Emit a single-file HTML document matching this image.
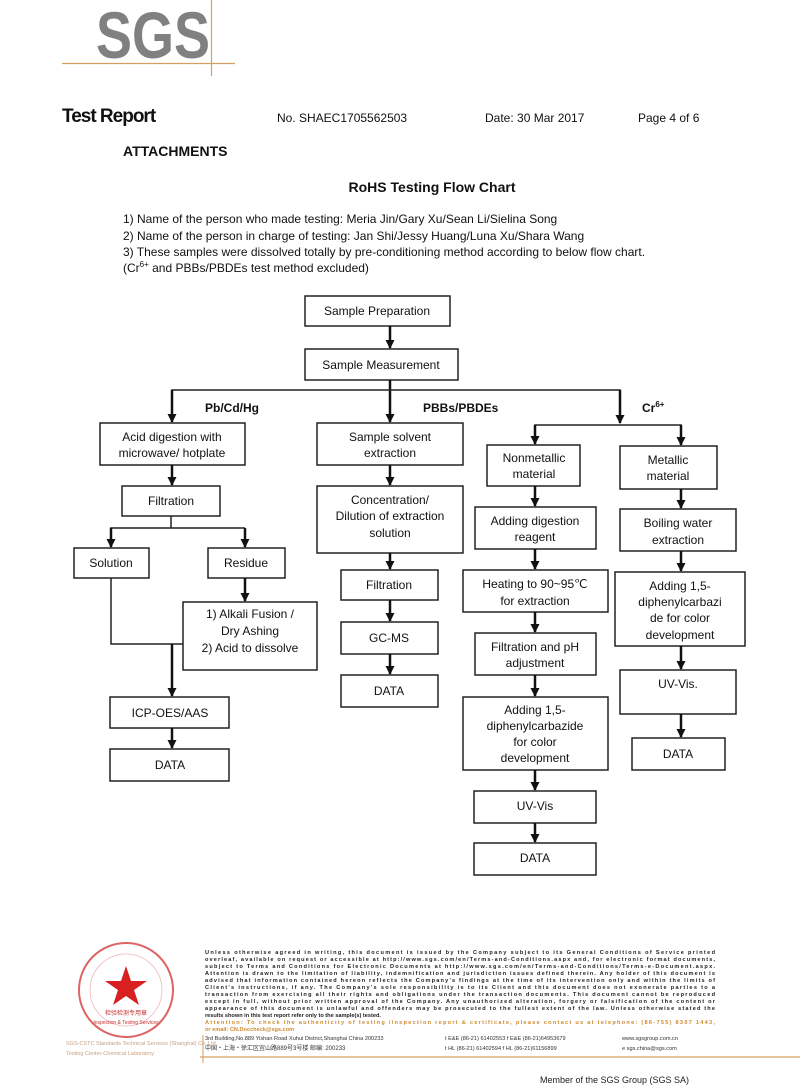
<!DOCTYPE html>
<html><head><meta charset="utf-8"><style>
body{margin:0;background:#fff;}
svg{display:block}
text{font-family:"Liberation Sans",Arial,sans-serif;fill:#111}
.b{fill:#fff;stroke:#222;stroke-width:1.5}
.l{stroke:#222;stroke-width:1.5;fill:none}
.a{stroke:#111;stroke-width:2.5;fill:none}
.t{font-size:12px;text-anchor:middle}
.ft{font-size:5.6px;fill:#222;font-weight:bold}
</style></head><body>
<svg width="800" height="1085" viewBox="0 0 800 1085" xmlns="http://www.w3.org/2000/svg">
<defs><marker id="ah" markerWidth="9" markerHeight="9" refX="8" refY="4.5" orient="auto" markerUnits="userSpaceOnUse"><path d="M0,0 L9,4.5 L0,9 z" fill="#111"/></marker></defs>
<!-- header -->
<text x="96" y="58" font-size="66" font-weight="bold" style="fill:#808080" textLength="114" lengthAdjust="spacingAndGlyphs">SGS</text>
<line x1="62" y1="63.5" x2="235" y2="63.5" stroke="#d4a060" stroke-width="1.2"/>
<line x1="211.5" y1="0" x2="211.5" y2="76" stroke="#d4a060" stroke-width="1.2"/>
<text x="62" y="122" font-size="19" font-weight="bold" style="letter-spacing:-1px">Test Report</text>
<text x="277" y="122" font-size="12">No. SHAEC1705562503</text>
<text x="485" y="122" font-size="12">Date: 30 Mar 2017</text>
<text x="638" y="122" font-size="12">Page 4 of 6</text>
<text x="123" y="156" font-size="14" font-weight="bold">ATTACHMENTS</text>
<text x="432" y="192" font-size="14" font-weight="bold" text-anchor="middle">RoHS Testing Flow Chart</text>
<text x="123" y="223" font-size="12">1) Name of the person who made testing: Meria Jin/Gary Xu/Sean Li/Sielina Song</text>
<text x="123" y="240" font-size="12">2) Name of the person in charge of testing: Jan Shi/Jessy Huang/Luna Xu/Shara Wang</text>
<text x="123" y="256" font-size="12">3) These samples were dissolved totally by pre-conditioning method according to below flow chart.</text>
<text x="123" y="272" font-size="12">(Cr<tspan font-size="8" dy="-5">6+</tspan><tspan dy="5"> and PBBs/PBDEs test method excluded)</tspan></text>

<!-- top boxes -->
<rect class="b" x="305" y="296" width="145" height="30"/><text class="t" x="377" y="315">Sample Preparation</text>
<rect class="b" x="305" y="349" width="153" height="31"/><text class="t" x="381" y="369">Sample Measurement</text>
<line class="a" x1="390" y1="326" x2="390" y2="348" marker-end="url(#ah)"/>
<line class="a" x1="390" y1="380" x2="390" y2="422" marker-end="url(#ah)"/>
<polyline class="l" points="172,410 172,390 620,390 620,410"/>
<line class="a" x1="172" y1="390" x2="172" y2="422" marker-end="url(#ah)"/>
<line class="a" x1="620" y1="390" x2="620" y2="423" marker-end="url(#ah)"/>
<text x="205" y="412" font-size="12" font-weight="bold">Pb/Cd/Hg</text>
<text x="423" y="412" font-size="12" font-weight="bold">PBBs/PBDEs</text>
<text x="642" y="412" font-size="12" font-weight="bold">Cr<tspan font-size="8" dy="-5">6+</tspan></text>

<!-- left column -->
<rect class="b" x="100" y="423" width="145" height="42"/><text class="t" x="172" y="441">Acid digestion with</text><text class="t" x="172" y="457">microwave/ hotplate</text>
<line class="a" x1="172" y1="465" x2="172" y2="485" marker-end="url(#ah)"/>
<rect class="b" x="122" y="486" width="98" height="30"/><text class="t" x="171" y="505">Filtration</text>
<polyline class="l" points="171,516 171,528 245,528"/>
<line class="l" x1="110" y1="528" x2="171" y2="528"/>
<line class="a" x1="111" y1="528" x2="111" y2="547" marker-end="url(#ah)"/>
<line class="a" x1="245" y1="528" x2="245" y2="547" marker-end="url(#ah)"/>
<rect class="b" x="74" y="548" width="75" height="30"/><text class="t" x="111" y="567">Solution</text>
<rect class="b" x="208" y="548" width="77" height="30"/><text class="t" x="246" y="567">Residue</text>
<line class="a" x1="245" y1="578" x2="245" y2="601" marker-end="url(#ah)"/>
<rect class="b" x="183" y="602" width="134" height="68"/>
<text class="t" x="250" y="618">1) Alkali Fusion /</text><text class="t" x="250" y="635">Dry Ashing</text><text class="t" x="250" y="652">2) Acid to dissolve</text>
<polyline class="l" points="111,578 111,644 183,644"/>
<line class="a" x1="172" y1="644" x2="172" y2="696" marker-end="url(#ah)"/>
<rect class="b" x="110" y="697" width="119" height="31"/><text class="t" x="170" y="717">ICP-OES/AAS</text>
<line class="a" x1="172" y1="728" x2="172" y2="748" marker-end="url(#ah)"/>
<rect class="b" x="110" y="749" width="119" height="32"/><text class="t" x="170" y="769">DATA</text>

<!-- middle column -->
<rect class="b" x="317" y="423" width="146" height="42"/><text class="t" x="390" y="441">Sample solvent</text><text class="t" x="390" y="457">extraction</text>
<line class="a" x1="390" y1="465" x2="390" y2="485" marker-end="url(#ah)"/>
<rect class="b" x="317" y="486" width="146" height="67"/><text class="t" x="390" y="504">Concentration/</text><text class="t" x="390" y="520">Dilution of extraction</text><text class="t" x="390" y="537">solution</text>
<line class="a" x1="390" y1="553" x2="390" y2="569" marker-end="url(#ah)"/>
<rect class="b" x="341" y="570" width="97" height="30"/><text class="t" x="389" y="589">Filtration</text>
<line class="a" x1="390" y1="600" x2="390" y2="621" marker-end="url(#ah)"/>
<rect class="b" x="341" y="622" width="97" height="32"/><text class="t" x="389" y="642">GC-MS</text>
<line class="a" x1="390" y1="654" x2="390" y2="674" marker-end="url(#ah)"/>
<rect class="b" x="341" y="675" width="97" height="32"/><text class="t" x="389" y="695">DATA</text>

<!-- Cr6+ -->
<polyline class="l" points="535,435 535,425 681,425 681,435"/>
<line class="a" x1="535" y1="425" x2="535" y2="444" marker-end="url(#ah)"/>
<line class="a" x1="681" y1="425" x2="681" y2="445" marker-end="url(#ah)"/>
<rect class="b" x="487" y="445" width="93" height="41"/><text class="t" x="534" y="462">Nonmetallic</text><text class="t" x="534" y="478">material</text>
<line class="a" x1="535" y1="486" x2="535" y2="506" marker-end="url(#ah)"/>
<rect class="b" x="475" y="507" width="121" height="42"/><text class="t" x="535" y="525">Adding digestion</text><text class="t" x="535" y="541">reagent</text>
<line class="a" x1="535" y1="549" x2="535" y2="569" marker-end="url(#ah)"/>
<rect class="b" x="463" y="570" width="145" height="42"/><text class="t" x="535" y="588">Heating to 90~95℃</text><text class="t" x="535" y="605">for extraction</text>
<line class="a" x1="535" y1="612" x2="535" y2="632" marker-end="url(#ah)"/>
<rect class="b" x="475" y="633" width="121" height="42"/><text class="t" x="535" y="651">Filtration and pH</text><text class="t" x="535" y="667">adjustment</text>
<line class="a" x1="535" y1="675" x2="535" y2="696" marker-end="url(#ah)"/>
<rect class="b" x="463" y="697" width="145" height="73"/><text class="t" x="535" y="714">Adding 1,5-</text><text class="t" x="535" y="730">diphenylcarbazide</text><text class="t" x="535" y="746">for color</text><text class="t" x="535" y="762">development</text>
<line class="a" x1="535" y1="770" x2="535" y2="790" marker-end="url(#ah)"/>
<rect class="b" x="474" y="791" width="122" height="32"/><text class="t" x="535" y="810">UV-Vis</text>
<line class="a" x1="535" y1="823" x2="535" y2="842" marker-end="url(#ah)"/>
<rect class="b" x="474" y="843" width="122" height="32"/><text class="t" x="535" y="862">DATA</text>

<rect class="b" x="620" y="446" width="97" height="43"/><text class="t" x="668" y="464">Metallic</text><text class="t" x="668" y="480">material</text>
<line class="a" x1="681" y1="489" x2="681" y2="508" marker-end="url(#ah)"/>
<rect class="b" x="620" y="509" width="116" height="42"/><text class="t" x="678" y="527">Boiling water</text><text class="t" x="678" y="544">extraction</text>
<line class="a" x1="681" y1="551" x2="681" y2="571" marker-end="url(#ah)"/>
<rect class="b" x="615" y="572" width="130" height="74"/><text class="t" x="680" y="590">Adding 1,5-</text><text class="t" x="680" y="606">diphenylcarbazi</text><text class="t" x="680" y="622">de for color</text><text class="t" x="680" y="639">development</text>
<line class="a" x1="681" y1="646" x2="681" y2="669" marker-end="url(#ah)"/>
<rect class="b" x="620" y="670" width="116" height="44"/><text class="t" x="678" y="688">UV-Vis.</text>
<line class="a" x1="681" y1="714" x2="681" y2="737" marker-end="url(#ah)"/>
<rect class="b" x="632" y="738" width="93" height="32"/><text class="t" x="678" y="758">DATA</text>

<!-- footer -->
<circle cx="126" cy="990" r="47" fill="none" stroke="#d03030" stroke-width="2" opacity="0.75"/>
<circle cx="126" cy="990" r="36" fill="none" stroke="#e07070" stroke-width="0.8" opacity="0.5"/>
<polygon points="126,966 131,981 147,981 134,990 139,1005 126,996 113,1005 118,990 105,981 121,981" fill="#d82020"/>
<text x="126" y="1015" font-size="6" text-anchor="middle" style="fill:#c83030">检验检测专用章</text>
<text x="126" y="1024" font-size="5" text-anchor="middle" style="fill:#c83030">Inspection &amp; Testing Services</text>
<text x="66" y="1045" font-size="5.5" style="fill:#c8a080">SGS-CSTC Standards Technical Services (Shanghai) Co.,Ltd.</text>
<text x="66" y="1055" font-size="5.5" style="fill:#c8a080">Testing Center-Chemical Laboratory</text>
<g>
<text x="205" y="954" class="ft" textLength="510">Unless otherwise agreed in writing, this document is issued by the Company subject to its General Conditions of Service printed</text>
<text x="205" y="961" class="ft" textLength="510">overleaf, available on request or accessible at http://www.sgs.com/en/Terms-and-Conditions.aspx and, for electronic format documents,</text>
<text x="205" y="968" class="ft" textLength="510">subject to Terms and Conditions for Electronic Documents at http://www.sgs.com/en/Terms-and-Conditions/Terms-e-Document.aspx.</text>
<text x="205" y="975" class="ft" textLength="510">Attention is drawn to the limitation of liability, indemnification and jurisdiction issues defined therein. Any holder of this document is</text>
<text x="205" y="982" class="ft" textLength="510">advised that information contained hereon reflects the Company's findings at the time of its intervention only and within the limits of</text>
<text x="205" y="989" class="ft" textLength="510">Client's instructions, if any. The Company's sole responsibility is to its Client and this document does not exonerate parties to a</text>
<text x="205" y="996" class="ft" textLength="510">transaction from exercising all their rights and obligations under the transaction documents. This document cannot be reproduced</text>
<text x="205" y="1003" class="ft" textLength="510">except in full, without prior written approval of the Company. Any unauthorized alteration, forgery or falsification of the content or</text>
<text x="205" y="1010" class="ft" textLength="510">appearance of this document is unlawful and offenders may be prosecuted to the fullest extent of the law. Unless otherwise stated the</text>
<text x="205" y="1017" class="ft">results shown in this test report refer only to the sample(s) tested.</text>
<text x="205" y="1024" font-size="5.6" font-weight="bold" style="fill:#d08a30" textLength="510">Attention: To check the authenticity of testing /inspection report &amp; certificate, please contact us at telephone: (86-755) 8307 1443,</text>
<text x="205" y="1031" font-size="5.6" font-weight="bold" style="fill:#d08a30">or email: CN.Doccheck@sgs.com</text>
<text x="205" y="1040" font-size="5.6" style="fill:#333">3rd Building,No.889 Yishan Road Xuhui District,Shanghai China   200233</text>
<text x="445" y="1040" font-size="5.6" style="fill:#333">t E&amp;E (86-21) 61402553  f E&amp;E (86-21)64953679</text>
<text x="622" y="1040" font-size="5.6" style="fill:#333">www.sgsgroup.com.cn</text>
<text x="205" y="1050" font-size="6" style="fill:#333;font-family:'Liberation Sans','Noto Sans CJK SC',sans-serif">中国・上海・徐汇区宜山路889号3号楼   邮编: 200233</text>
<text x="445" y="1050" font-size="5.6" style="fill:#333">t HL (86-21) 61402594  f HL (86-21)61156899</text>
<text x="622" y="1050" font-size="5.6" style="fill:#333">e  sgs.china@sgs.com</text>
</g>
<line x1="200" y1="1057" x2="800" y2="1057" stroke="#d4a060" stroke-width="1.2"/>
<line x1="203" y1="1035" x2="203" y2="1063" stroke="#d4a060" stroke-width="1"/>
<text x="540" y="1083" font-size="9" style="fill:#222">Member of the SGS Group (SGS SA)</text>
</svg>
</body></html>
